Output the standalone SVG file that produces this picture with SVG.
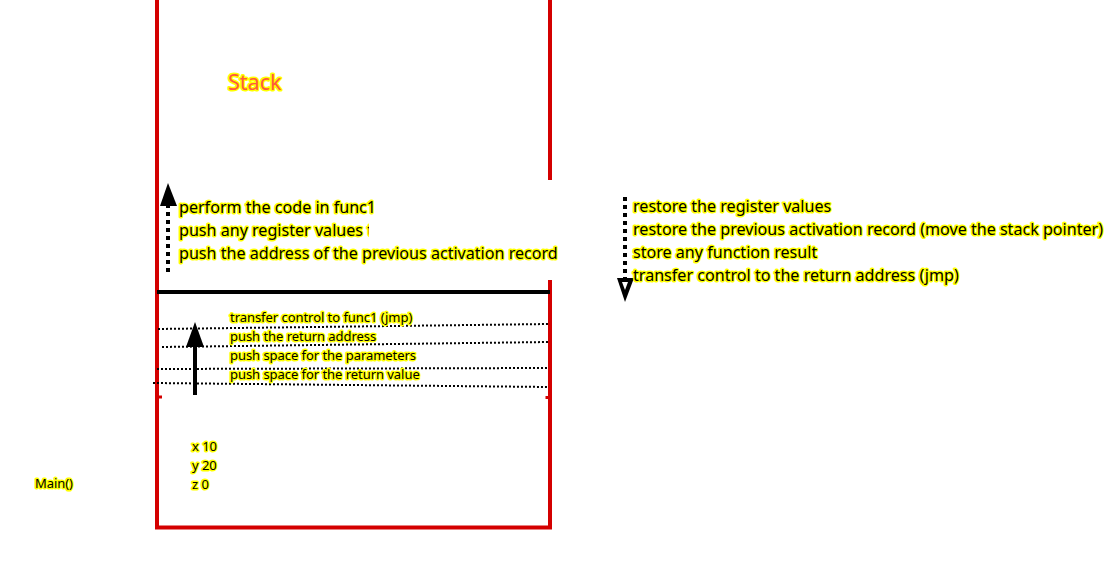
<svg xmlns="http://www.w3.org/2000/svg" width="1106" height="562" viewBox="0 0 1106 562">
<style>
.t{font-family:"Noto Sans","Open Sans",sans-serif;fill:#000;stroke:#ffff00;stroke-width:3;paint-order:stroke;stroke-linejoin:round}
.big{font-size:16.1px}
.sm{font-size:13px;letter-spacing:-0.05px}
.red{fill:none;stroke:#d40000;stroke-width:4}
.dot{fill:none;stroke:#000;stroke-width:2;stroke-dasharray:2,2}
</style>
<defs>
<clipPath id="cl"><rect x="170" y="215" width="199" height="30"/></clipPath>
</defs>
<rect width="1106" height="562" fill="#fff"/>
<g id="stack">
<path class="red" d="M157,0 V527.5 H550 V280 M550,180 V0"/>
<path class="red" d="M157,397 H162 M547,396 V399" style="stroke-width:3"/>
<line x1="157" y1="292" x2="550" y2="292" stroke="#000" stroke-width="4"/>
<text class="t" x="228" y="90" style="font-size:21.5px;fill:#ff5a3c">Stack</text>
</g>
<g id="connectors">
<line class="dot" x1="158" y1="329" x2="549" y2="324"/>
<line class="dot" x1="162" y1="347" x2="549" y2="342"/>
<line class="dot" x1="157" y1="369" x2="549" y2="368"/>
<line class="dot" x1="153" y1="383" x2="549" y2="387"/>
<line x1="195" y1="395" x2="195" y2="344" stroke="#000" stroke-width="4"/>
<polygon points="195,322 186,347 204,347" fill="#000"/>
<line x1="168" y1="272" x2="168" y2="204" stroke="#000" stroke-width="4" stroke-dasharray="4,4"/>
<polygon points="168,183 160,206 177,206" fill="#000"/>
<line x1="625" y1="197" x2="625" y2="280" stroke="#000" stroke-width="4" stroke-dasharray="4,4"/>
<polygon points="625,302 617,278 634,278" fill="#000"/>
<polygon points="625,290 622,282 628,282" fill="#fff"/>
</g>
<g id="func1-calls">
<text class="t big" x="179" y="213">perform the code in func1</text>
<text class="t big" x="179" y="236" clip-path="url(#cl)">push any register values t</text>
<text class="t big" x="179" y="259">push the address of the previous activation record</text>
</g>
<g id="returns">
<text class="t big" x="633" y="212">restore the register values</text>
<text class="t big" x="633" y="235">restore the previous activation record (move the stack pointer)</text>
<text class="t big" x="633" y="258">store any function result</text>
<text class="t big" x="633" y="281">transfer control to the return address (jmp)</text>
</g>
<g id="caller">
<text class="t sm" x="230" y="322">transfer control to func1 (jmp)</text>
<text class="t sm" x="230" y="341">push the return address</text>
<text class="t sm" x="230" y="360">push space for the parameters</text>
<text class="t sm" x="230" y="379">push space for the return value</text>
</g>
<g id="main">
<text class="t sm" x="192" y="451">x 10</text>
<text class="t sm" x="192" y="470">y 20</text>
<text class="t sm" x="192" y="489">z 0</text>
<text class="t sm" x="35" y="488">Main()</text>
</g>
</svg>
